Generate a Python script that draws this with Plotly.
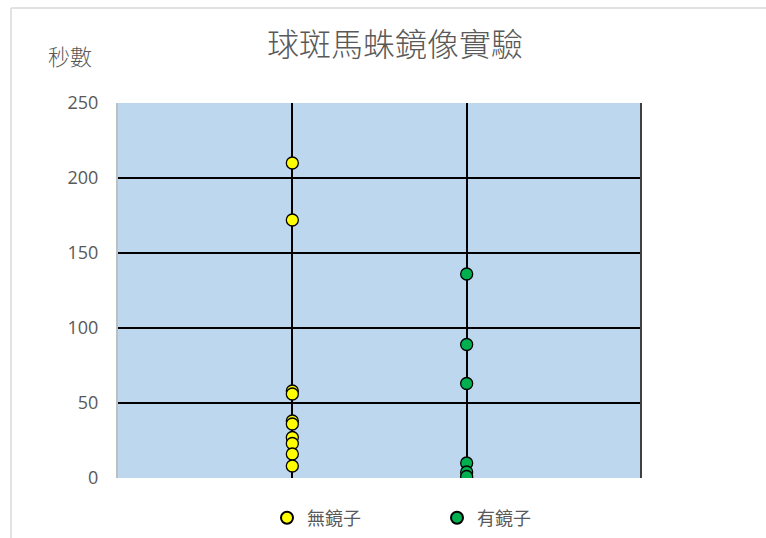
import plotly.graph_objects as go

title = "球斑馬蛛鏡像實驗"
y_title = "秒數"
categories = ["無鏡子", "有鏡子"]
no_mirror = [210, 172, 58, 56, 38, 36, 27, 23, 16, 8]
with_mirror = [136, 89, 63, 10, 4, 1]
y_ticks = [0, 50, 100, 150, 200, 250]
colors = ["#FFFF00", "#00B050"]

W, H = 766, 538
L, R, T, B = 118, 125, 103, 60
pw, ph = W - L - R, H - T - B

fig = go.Figure()
for i, (name, vals) in enumerate(zip(categories, [no_mirror, with_mirror])):
    fig.add_trace(go.Scatter(
        x=[i + 1] * len(vals), y=vals, mode="markers", name=name,
        marker=dict(size=12, color=colors[i], line=dict(color="black", width=1.3)),
    ))

def px(x):
    return (x - L) / pw

def py(y):
    return 1 - (y - T) / ph

shapes = [
    dict(type="line", xref="paper", yref="paper", x0=px(11), x1=px(766), y0=py(8), y1=py(8),
         line=dict(color="#D9D9D9", width=1.5)),
    dict(type="line", xref="paper", yref="paper", x0=px(11), x1=px(11), y0=py(8), y1=py(538),
         line=dict(color="#D9D9D9", width=1.5)),
    dict(type="line", xref="paper", yref="paper", x0=1, x1=1, y0=0, y1=1,
         line=dict(color="#404040", width=2)),
]

fig.update_layout(
    width=W, height=H,
    margin=dict(l=L, r=R, t=T, b=B, autoexpand=False),
    paper_bgcolor="white",
    plot_bgcolor="#BDD7EE",
    title=dict(text=title, xref="container", yref="container",
               x=395 / W, xanchor="center", y=1 - 45 / H, yanchor="middle",
               font=dict(family="Noto Sans CJK TC", size=32, color="#595959", weight=300)),
    xaxis=dict(range=[0, 3], tickvals=[1, 2], showticklabels=False, showgrid=True,
               gridcolor="black", gridwidth=2, zeroline=False, showline=False, fixedrange=True),
    yaxis=dict(range=[0, 250], tickvals=y_ticks, showgrid=True, gridcolor="black", gridwidth=2,
               zeroline=False, showline=True, linecolor="#BFBFBF", linewidth=2,
               ticks="", ticklabelstandoff=14,
               tickfont=dict(family="Open Sans", size=18, color="#595959")),
    showlegend=True,
    legend=dict(orientation="h", xref="container", yref="container",
                x=437 / W, xanchor="center", y=1 - 518 / H, yanchor="middle",
                font=dict(family="Noto Sans CJK TC", size=18, color="#595959"),
                itemsizing="constant", entrywidth=125, entrywidthmode="pixels",
                bgcolor="rgba(0,0,0,0)"),
    annotations=[dict(text=y_title, xref="paper", yref="paper", x=px(70), y=py(55),
                      xanchor="center", yanchor="middle", showarrow=False,
                      font=dict(family="Noto Sans CJK TC", size=22, color="#595959", weight=300))],
    shapes=shapes,
)

fig.write_html("out.html")
